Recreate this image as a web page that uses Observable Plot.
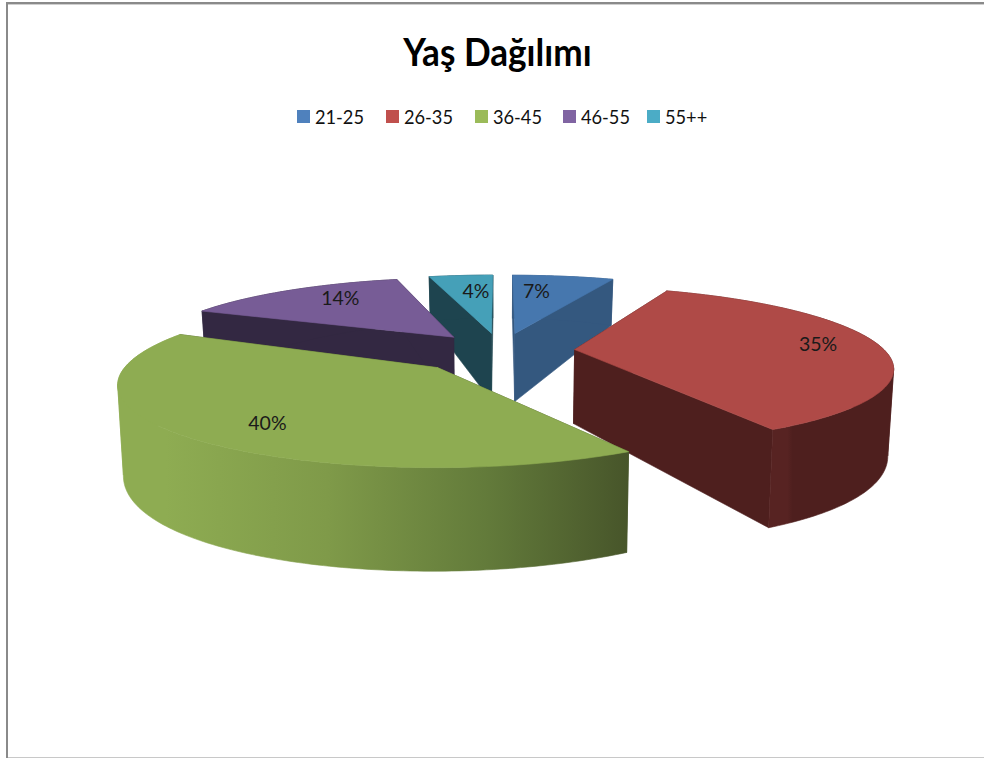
<!DOCTYPE html>
<html lang="tr">
<head>
<meta charset="utf-8">
<script src="https://cdn.jsdelivr.net/npm/d3@7"></script>
<script src="https://cdn.jsdelivr.net/npm/@observablehq/plot@0.6"></script>
<style>
  html, body { margin: 0; padding: 0; background: #fff; width: 984px; height: 758px; overflow: hidden; }
  #page { position: relative; width: 984px; height: 758px; font-family: Lato, sans-serif; }
  #frameLeft { position: absolute; left: 6px; top: 2px; width: 2px; height: 756px; background: #8a8a8a; }
  #frameTop { position: absolute; left: 6px; top: 2px; width: 978px; height: 2px; background: #8a8a8a; border-bottom: 1px solid #cfcfcf; }
  #frameBottom { position: absolute; left: 8px; top: 757px; width: 976px; height: 1px; background: #c8c8c8; }
  #title { position: absolute; left: 0; top: 26px; width: 995px; text-align: center; font-size: 38px; font-weight: 700; line-height: 50px; color: #000; transform: scaleX(0.925); transform-origin: 497.5px 0; }
  #legend { position: absolute; top: 104px; left: 0; height: 24px; width: 984px; font-size: 20px; line-height: 24px; color: #111; }
  .item { position: absolute; top: 0; white-space: nowrap; }
  .lbl { display: inline-block; transform: scaleX(0.91); transform-origin: 0 0; }
  .sw { position: absolute; left: -18px; top: 6px; width: 13px; height: 13px; }
  #chart { position: absolute; left: 0; top: 140px; }
</style>
</head>
<body>
<div id="page">
  <div id="title">Yaş Dağılımı</div>
  <div id="legend"></div>
  <div id="chart"></div>
  <div id="frameTop"></div>
  <div id="frameLeft"></div>
  <div id="frameBottom"></div>
</div>
<script>
// --- chart data ---
const categories = ["21-25", "26-35", "36-45", "46-55", "55++"];
const shares = [6.5, 35.4, 39.6, 14.4, 4.1];

// --- styles ---
const legendColors = ["#4F81BD", "#C0504D", "#9BBB59", "#8064A2", "#4BACC6"];
const topColors = ["#4677AE", "#AF4A47", "#8EAC52", "#775C96", "#45A0B8"];
const cutColors = ["#34587F", "#4E1F1E", "#47552A", "#332842", "#1E444F"];
const rimFills = ["#34587F", "url(#redWall)", "url(#greenWall)", "#332842", "#1E444F"];
const legendLefts = [315, 404, 493, 581, 665];

// --- perspective pie geometry ---
const H = 618, top0 = 140;
const cx = 500, cy = 350, A = 310, B = 76, k = 0.2, explode = 0.24;
const apexInset = [0, 0, 0.05, 0, 0];
const paintOrder = [0, 4, 3, 1, 2];
const labelRadius = [0.7, 0.77, 0.7, 0.7, 0.7];
const labelShiftX = [-14, 8, -6, 6, 7];
const labelShiftY = [0, -2, 12, -4, 1];

const rad = (d) => (d * Math.PI) / 180;
let acc = 0;
const slices = shares.map((v, i) => {
  const a0 = (acc / 100) * 360;
  acc += v;
  const a1 = (acc / 100) * 360;
  const mid = (a0 + a1) / 2;
  return { i, v, a0, a1, mid, ox: explode * Math.sin(rad(mid)), oy: explode * Math.cos(rad(mid)) };
});

function topPoint(s, theta, r) {
  const X = r * Math.sin(rad(theta)) + s.ox;
  const Y = r * Math.cos(rad(theta)) + s.oy;
  const w = 1 + k * Y;
  return { X, Y, x: cx + (A * X) / w, y: cy - top0 - (B * Y) / w };
}
function bottomPoint(p) {
  const h = 74 - 25 * p.Y + 5 * p.X * p.X;
  return { x: cx + (p.x - cx) * 0.985, y: p.y + h };
}
function arc(s) {
  const n = Math.max(2, Math.ceil(s.a1 - s.a0));
  return d3.range(n + 1).map((j) => topPoint(s, s.a0 + ((s.a1 - s.a0) * j) / n, 1));
}
// split a rim where it turns back in x, so each wall piece is a simple polygon
function monotoneRuns(rim) {
  const runs = [];
  let run = [rim[0]];
  let dir = 0;
  for (let j = 1; j < rim.length; j++) {
    const d = Math.sign(rim[j].x - rim[j - 1].x);
    if (dir && d && d !== dir) {
      runs.push(run);
      run = [rim[j - 1]];
    }
    if (d) dir = d;
    run.push(rim[j]);
  }
  runs.push(run);
  return runs;
}

const paintRows = [];
let id = 0;
const poly = (points, color) => {
  id += 1;
  for (const p of [...points, points[0]]) paintRows.push({ id, x: p.x, y: p.y, color });
};
for (const i of paintOrder) {
  const s = slices[i];
  const rim = arc(s);
  const c = topPoint(s, s.mid, apexInset[i]);
  const cb = bottomPoint(c);
  const first = rim[0];
  const last = rim[rim.length - 1];
  poly([c, first, bottomPoint(first), cb], cutColors[i]);
  poly([c, last, bottomPoint(last), cb], cutColors[i]);
  for (const run of monotoneRuns(rim)) poly([...run, ...run.map(bottomPoint).reverse()], rimFills[i]);
  poly([c, ...rim], topColors[i]);
}

const labels = slices.map((s) => {
  const p = topPoint(s, s.mid, labelRadius[s.i]);
  return { x: p.x + labelShiftX[s.i], y: p.y + labelShiftY[s.i], text: `${Math.round(s.v)}%` };
});

// gradients referenced by the outer walls, defined in the chart's own pixel space
function gradient(name, x1, x2, stops) {
  return () => {
    const g = d3.create("svg:linearGradient")
      .attr("id", name).attr("gradientUnits", "userSpaceOnUse")
      .attr("x1", x1).attr("x2", x2).attr("y1", 0).attr("y2", 0);
    for (const [o, c] of stops) g.append("stop").attr("offset", o).attr("stop-color", c);
    return d3.create("svg:defs").call((d) => d.append(() => g.node())).node();
  };
}

const fig = Plot.plot({
  width: 984,
  height: H,
  margin: 0,
  x: { domain: [0, 984], range: [0, 984], axis: null },
  y: { domain: [0, H], range: [0, H], axis: null },
  color: { type: "identity" },
  style: { background: "transparent", overflow: "visible" },
  marks: [
    gradient("greenWall", 165, 628, [[0, "#8EAC52"], [0.35, "#7F9A49"], [0.7, "#627A3A"], [1, "#47552A"]]),
    gradient("redWall", 772, 792, [[0, "#572322"], [0.75, "#572322"], [1, "#4E1F1E"]]),
    Plot.line(paintRows, { x: "x", y: "y", z: "id", fill: "color", stroke: "color", strokeWidth: 0.6 }),
    Plot.text(labels, { x: "x", y: "y", text: "text", fontSize: 19.5, fontFamily: "Lato, sans-serif", fill: "#1a1a1a", textAnchor: "middle" })
  ]
});
document.getElementById("chart").appendChild(fig);

const legend = document.getElementById("legend");
categories.forEach((c, i) => {
  const el = document.createElement("div");
  el.className = "item";
  el.style.left = legendLefts[i] + "px";
  const t = document.createElement("span");
  t.className = "lbl";
  t.textContent = c;
  el.appendChild(t);
  const sw = document.createElement("span");
  sw.className = "sw";
  sw.style.background = legendColors[i];
  el.appendChild(sw);
  legend.appendChild(el);
});
</script>
</body>
</html>
